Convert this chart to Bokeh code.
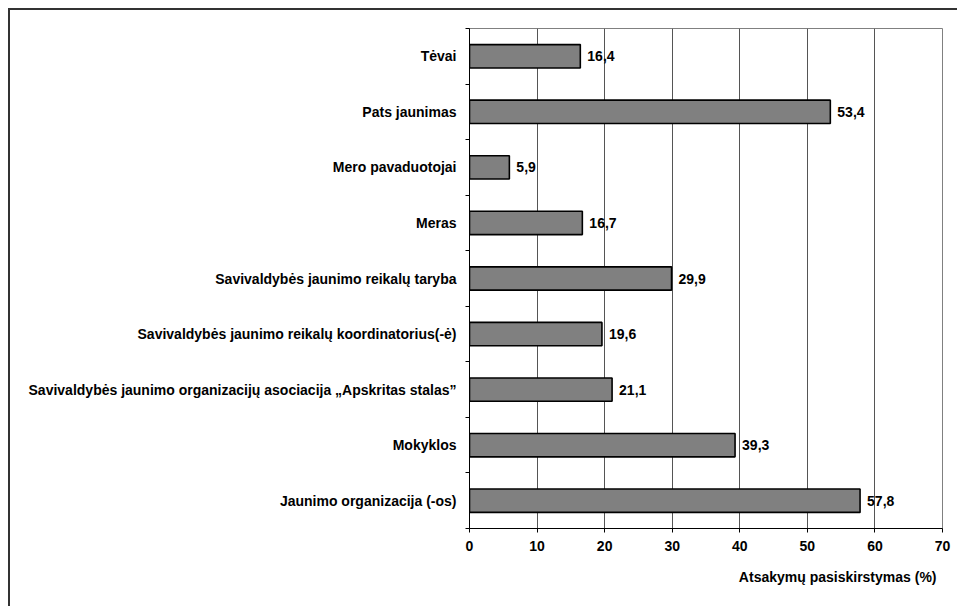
from bokeh.plotting import figure
from bokeh.models import FixedTicker, ColumnDataSource, Title
from bokeh.embed import file_html
from bokeh.resources import INLINE
from bokeh.core.properties import value

# Data (top to bottom as shown)
categories = [
    "Tėvai",
    "Pats jaunimas",
    "Mero pavaduotojai",
    "Meras",
    "Savivaldybės jaunimo reikalų taryba",
    "Savivaldybės jaunimo reikalų koordinatorius(-ė)",
    "Savivaldybės jaunimo organizacijų asociacija „Apskritas stalas”",
    "Mokyklos",
    "Jaunimo organizacija (-os)",
]
values = [16.4, 53.4, 5.9, 16.7, 29.9, 19.6, 21.1, 39.3, 57.8]
x_ticks = [0, 10, 20, 30, 40, 50, 60, 70]
x_label = "Atsakymų pasiskirstymas (%)"

n = len(categories)
ypos = [n - i - 0.5 for i in range(n)]
labels = [("%.1f" % v).replace(".", ",") for v in values]

src = ColumnDataSource(dict(y=ypos, v=values, lab=labels, cat=categories))

FONT = "Liberation Sans"
FS = "14px"

p = figure(width=949, height=598, output_backend="svg", toolbar_location=None,
           x_range=(0, 70), y_range=(0, n),
           min_border_left=459, min_border_right=17, min_border_top=18, min_border_bottom=80)
p.styles = {"border-left": "2px solid #333333", "border-top": "2px solid #333333",
            "margin-left": "8px", "margin-top": "8px"}

p.hbar(y="y", right="v", left=0, height=0.42, source=src,
       fill_color="#808080", line_color="black", line_width=1.6)

p.text(x="v", y="y", text="lab", source=src, x_offset=7,
       text_baseline="middle", text_align="left",
       text_font=value(FONT), text_font_style="bold", text_font_size=FS,
       text_color="black")

# axes
p.xaxis.ticker = FixedTicker(ticks=x_ticks)
p.xaxis.major_label_text_font = FONT
p.xaxis.major_label_text_font_style = "bold"
p.xaxis.major_label_text_font_size = FS
p.xaxis.major_label_text_color = "black"
p.xaxis.major_label_standoff = 8
p.xaxis.major_tick_out = 4
p.xaxis.major_tick_in = 0
p.xaxis.minor_tick_line_color = None
p.xaxis.axis_line_color = "black"
p.xaxis.major_tick_line_color = "black"

p.yaxis.ticker = FixedTicker(ticks=ypos, minor_ticks=list(range(n + 1)))
p.yaxis.major_label_overrides = {y: c for y, c in zip(ypos, categories)}
p.yaxis.major_label_text_font = FONT
p.yaxis.major_label_text_font_style = "bold"
p.yaxis.major_label_text_font_size = FS
p.yaxis.major_label_text_color = "black"
p.yaxis.major_tick_line_color = None
p.yaxis.major_tick_out = 0
p.yaxis.major_tick_in = 0
p.yaxis.minor_tick_out = 4
p.yaxis.minor_tick_in = 0
p.yaxis.minor_tick_line_color = "black"
p.yaxis.major_label_standoff = 9
p.yaxis.axis_line_color = "black"

p.ygrid.grid_line_color = None
p.xgrid.grid_line_color = "#555555"
p.xgrid.grid_line_width = 1

p.outline_line_color = "#808080"
p.outline_line_width = 1

t = Title(text=x_label, align="right", text_font=FONT, text_font_style="bold",
          text_font_size=FS, text_color="black", offset=6, standoff=26)
p.add_layout(t, "below")

open("out.html", "w").write(file_html(p, INLINE))
